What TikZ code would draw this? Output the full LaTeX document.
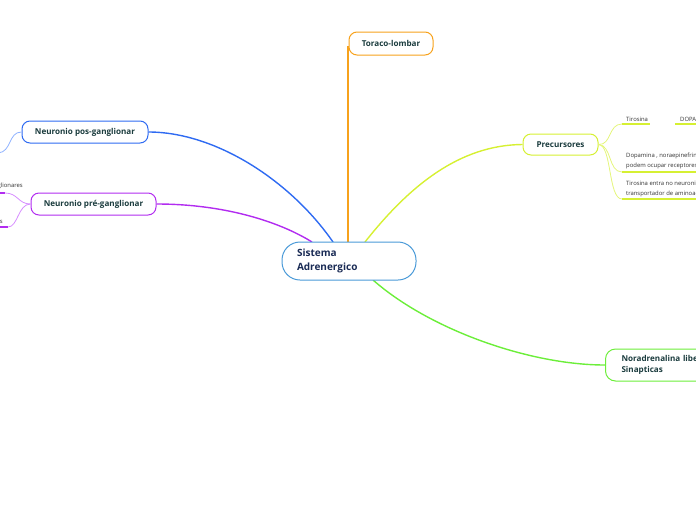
\documentclass[tikz,border=0pt]{standalone}
\usepackage{fontspec}
\setmainfont{Open Sans}
\definecolor{cblue}{HTML}{4A9AD8}
\definecolor{pblue}{HTML}{2F6BF2}
\definecolor{lblue}{HTML}{8FB2FF}
\definecolor{ppur}{HTML}{B22CF0}
\definecolor{lpur}{HTML}{D68CFF}
\definecolor{corg}{HTML}{F7A21C}
\definecolor{cyel}{HTML}{D6F032}
\definecolor{lyel}{HTML}{E4F57A}
\definecolor{cgrn}{HTML}{6CEE3A}
\definecolor{txt}{HTML}{1B3C3E}
\definecolor{ctxt}{HTML}{1A2B55}
\definecolor{stxt}{HTML}{333333}
\tikzset{
  topic/.style={draw=#1, line width=1pt, fill=white, rounded corners=8pt, inner sep=0pt,
    font=\fontsize{8.1}{9}\selectfont\bfseries, text=txt},
  rootbox/.style={draw=cblue, line width=1pt, fill=white, rounded corners=18pt, minimum width=134pt, minimum height=38pt,
    text width=104pt, inner xsep=15pt, inner ysep=0pt, align=left, font=\fontsize{10}{14}\selectfont\bfseries, text=ctxt},
  conn/.style={draw=#1, line width=1.4pt},
  sub/.style={draw=#1, line width=0.8pt},
  uline/.style={draw=#1, line width=1.3pt},
  small/.style={inner sep=0pt, font=\fontsize{5.9}{10}\selectfont, text=stxt, align=left, anchor=south west}
}
\begin{document}
\begin{tikzpicture}[x=1pt,y=-1pt]
\useasboundingbox (0,0) rectangle (696,520);
\clip (0,0) rectangle (696,520);
% anchor coordinates
\coordinate (rPos) at (333,242);
\coordinate (rPre) at (312,242);
\coordinate (rTor) at (348,242);
\coordinate (rPrec) at (365,242);
\coordinate (rNor) at (373,280);
\coordinate (tTor) at (348,46);
% topic nodes
\node[topic=pblue, minimum width=126pt, minimum height=22pt] (pos) at (85,132) {Neuronio pos-ganglionar};
\node[topic=ppur, minimum width=125pt, minimum height=22pt] (pre) at (93.5,204) {Neuronio pré-ganglionar};
\node[topic=cyel, minimum width=75pt, minimum height=21pt] (prec) at (560.5,144.5) {Precursores};
\node[topic=cgrn, rounded corners=10pt, minimum height=32pt, text width=110pt, inner xsep=16pt, align=left,
  font=\fontsize{8.1}{11}\selectfont\bfseries, anchor=west] (nor) at (605,365) {Noradrenalina liberada\\Sinapticas};
% main connectors
\draw[conn=pblue] (pos.east) .. controls (215,132) and (290,180) .. (rPos);
\draw[conn=ppur] (pre.east) .. controls (225,204) and (280,222) .. (rPre);
\draw[conn=corg] (rTor) -- (tTor);
\draw[conn=cyel] (rPrec) .. controls (410,185) and (460,145) .. (prec.west);
\draw[conn=cgrn] (rNor) .. controls (430,330) and (530,365) .. (nor.west);
% boxes drawn over connector ends
\node[rootbox] (root) at (349,261) {Sistema\\Adrenergico};
\node[topic=corg, minimum width=84pt, minimum height=23pt] (tor) at (391,43.5) {Toraco-lombar};
% precursores children
\node[small] (t1) at (626,122) {Tirosina};
\node[small] (t2) at (680,122) {DOPA};
\node[small] (t3) at (626,169.5) {Dopamina , noraepinefrina\\podem ocupar receptores};
\node[small] (t4) at (626,197) {Tirosina entra no neuronio\\transportador de aminoacidos};
\coordinate (u1a) at (622,124); \coordinate (u1b) at (650,124);
\coordinate (u2a) at (675,124); \coordinate (u2b) at (700,124);
\coordinate (u3a) at (622,172); \coordinate (u3b) at (700,172);
\coordinate (u4a) at (622,199); \coordinate (u4b) at (700,199);
\draw[uline=cyel] (u1a) -- (u1b);
\draw[uline=cyel] (u2a) -- (u2b);
\draw[uline=cyel] (u3a) -- (u3b);
\draw[uline=cyel] (u4a) -- (u4b);
\draw[sub=lyel] (prec.east) .. controls (612,145) and (608,124) .. (u1a);
\draw[sub=lyel] (prec.east) .. controls (612,145) and (608,172) .. (u3a);
\draw[sub=lyel] (prec.east) .. controls (612,145) and (608,199) .. (u4a);
% pos children
\coordinate (p1) at (-2,153);
\draw[sub=lblue] (pos.west) .. controls (8,132) and (12,152) .. (p1);
% pre children
\node[small, anchor=south east] (q1) at (23,189) {glionares};
\node[small, anchor=south east] (q2) at (3,224) {s};
\coordinate (q1a) at (5,193); \coordinate (q1b) at (-5,193);
\coordinate (q2a) at (8,227); \coordinate (q2b) at (-5,227);
\draw[uline=ppur] (q1b) -- (q1a);
\draw[uline=ppur] (q2b) -- (q2a);
\draw[sub=lpur] (pre.west) .. controls (18,204) and (18,193) .. (q1a);
\draw[sub=lpur] (pre.west) .. controls (18,204) and (18,227) .. (q2a);
\end{tikzpicture}
\end{document}
